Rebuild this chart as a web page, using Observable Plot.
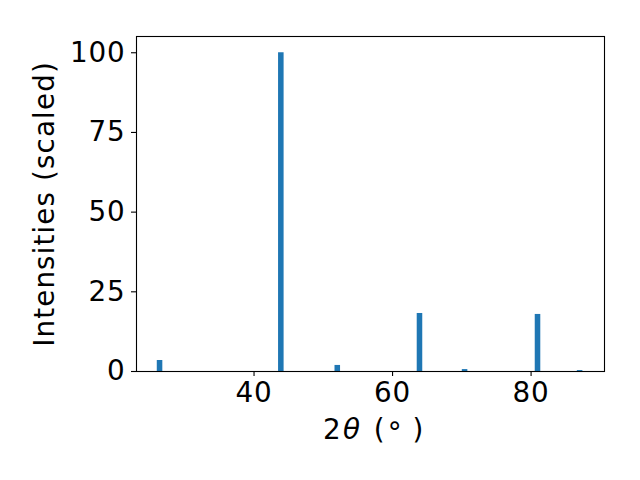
<!DOCTYPE html>
<html>
<head>
<meta charset="utf-8">
<script src="https://cdn.jsdelivr.net/npm/d3@7"></script>
<script src="https://cdn.jsdelivr.net/npm/@observablehq/plot@0.6"></script>
<style>
  html, body { margin: 0; padding: 0; background: #fff; }
  svg { font-family: "DejaVu Sans", sans-serif; }
</style>
</head>
<body>
<div id="chart"></div>
<script>
const twoTheta = [26.43, 43.94, 52.09, 63.96, 70.47, 81.0, 87.08];
const intensity = [3.45, 100, 1.9, 18.2, 0.6, 17.9, 0.3];
const xTicks = [40, 60, 80];
const yTicks = [0, 25, 50, 75, 100];
const barWidth = 0.8;

const data = twoTheta.map((t, i) => ({t, v: intensity[i]}));
const fs = 27.8;

const plot = Plot.plot({
  width: 640,
  height: 480,
  marginLeft: 136,
  marginRight: 36,
  marginTop: 36,
  marginBottom: 109,
  style: {fontFamily: "DejaVu Sans, sans-serif", fontSize: fs + "px", background: "#fff", color: "#000"},
  x: {domain: [23.03, 90.6]},
  y: {domain: [0, 105.1]},
  marks: [
    Plot.rectY(data, {x1: d => d.t - barWidth / 2, x2: d => d.t + barWidth / 2, y1: 0, y2: "v", fill: "#1f77b4", inset: 0}),
    Plot.frame({stroke: "#000", strokeWidth: 1.1}),
    Plot.axisX({ticks: xTicks, tickSize: 5, tickPadding: 6, label: null, tickFormat: d => String(d), strokeWidth: 1.1, fontSize: fs, className: "xax"}),
    Plot.axisY({ticks: yTicks, tickSize: 5, tickPadding: 6, label: null, tickFormat: d => String(d), strokeWidth: 1.1, fontSize: fs, className: "yax"}),
    Plot.text(["Intensities (scaled)"], {frameAnchor: "left", dx: -91, rotate: -90, textAnchor: "middle", lineAnchor: "middle", text: d => d, fontSize: fs, fill: "#000", className: "ylab"}),
    Plot.text(["2θ (°)"], {frameAnchor: "bottom", dy: 67, dx: -47.5, textAnchor: "start", text: d => d, fontSize: fs, fill: "#000", className: "xlab"})
  ]
});
document.getElementById("chart").appendChild(plot);

// slightly wider glyph advances, like the hinted reference text
d3.select(plot).selectAll("g.ylab text").style("letter-spacing", "1.1px");
d3.select(plot).selectAll("g.yax text, g.xax text").style("letter-spacing", "0.8px");

// Mathtext-like styling for the x label: italic theta and superscript circle
const xl = d3.select(plot).select("g.xlab text");
xl.text(null);
xl.append("tspan").text("2");
xl.append("tspan").attr("font-style", "italic").attr("dx", 2.3).text("θ");
xl.append("tspan").attr("dx", 5).text(" (");
xl.append("tspan").attr("dx", 3).attr("dy", 3).text("°");
xl.append("tspan").attr("dx", 11).attr("dy", -3).text(")");
</script>
</body>
</html>
